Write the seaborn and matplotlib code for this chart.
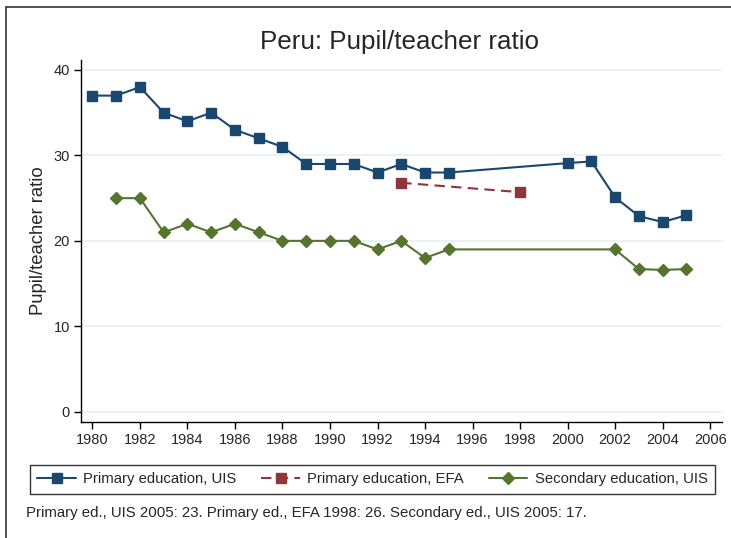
import pandas as pd
import matplotlib.pyplot as plt
import seaborn as sns
from matplotlib.lines import Line2D

# -------------------------------
# Data
# -------------------------------

primary_uis_years = [1980, 1981, 1982, 1983, 1984, 1985, 1986, 1987, 1988, 1989,
                     1990, 1991, 1992, 1993, 1994, 1995, 2000, 2001, 2002, 2003,
                     2004, 2005]
primary_uis_values = [37, 37, 38, 35, 34, 35, 33, 32, 31, 29,
                      29, 29, 28, 29, 28, 28, 29.1, 29.3, 25.1, 22.9,
                      22.2, 23.0]

primary_efa_years = [1993, 1998]
primary_efa_values = [26.8, 25.7]

secondary_uis_years = [1981, 1982, 1983, 1984, 1985, 1986, 1987, 1988, 1989, 1990,
                       1991, 1992, 1993, 1994, 1995, 2002, 2003, 2004, 2005]
secondary_uis_values = [25, 25, 21, 22, 21, 22, 21, 20, 20, 20,
                        20, 19, 20, 18, 19, 19.0, 16.7, 16.6, 16.7]

x_ticks = list(range(1980, 2007, 2))
y_ticks = [0, 10, 20, 30, 40]

note = "Primary ed., UIS 2005: 23. Primary ed., EFA 1998: 26. Secondary ed., UIS 2005: 17."

# -------------------------------
# Plot
# -------------------------------

sns.set_style("white")
plt.rcParams["font.family"] = ["Liberation Sans", "DejaVu Sans"]

fig = plt.figure(figsize=(7.31, 5.38), dpi=100)
ax = fig.add_axes([0.1108, 0.2156, 0.8769, 0.6729])

navy = "#1a476f"
maroon = "#90353b"
green = "#55752f"

sns.lineplot(x=primary_uis_years, y=primary_uis_values, ax=ax, color=navy,
             marker="s", markersize=6.5, markeredgecolor=navy, markeredgewidth=1,
             linewidth=1.5, label="Primary education, UIS")
sns.lineplot(x=primary_efa_years, y=primary_efa_values, ax=ax, color=maroon,
             marker="s", markersize=6.5, markeredgecolor=maroon, markeredgewidth=1,
             linewidth=1.5, linestyle=(0, (5, 3)), label="Primary education, EFA")
sns.lineplot(x=secondary_uis_years, y=secondary_uis_values, ax=ax, color=green,
             marker="D", markersize=6, markeredgecolor=green, markeredgewidth=1,
             linewidth=1.5, label="Secondary education, UIS")

ax.set_xlim(1979.52, 2006.5)
ax.set_ylim(-1.2, 41.17)
ax.set_xticks(x_ticks)
ax.set_yticks(y_ticks)
ax.tick_params(axis="both", direction="out", length=5, width=1, color="black",
               labelsize=10.5, pad=3, left=True, bottom=True)
ax.yaxis.grid(True, color="#e8eff2", linewidth=1.2)
ax.xaxis.grid(False)
ax.set_axisbelow(True)

for side in ["top", "right"]:
    ax.spines[side].set_visible(False)
for side in ["left", "bottom"]:
    ax.spines[side].set_color("black")
    ax.spines[side].set_linewidth(1)

ax.set_xlabel("")
ax.set_ylabel("Pupil/teacher ratio", fontsize=13.3, labelpad=5)

fig.text(0.547, 0.922, "Peru: Pupil/teacher ratio", fontsize=18.7,
         ha="center", va="center")

# legend below the plot, framed, one row
handles, labels = ax.get_legend_handles_labels()
ax.get_legend().remove()
leg = fig.legend(handles, labels, ncol=3, loc="lower left",
                 bbox_to_anchor=(0.041, 0.082, 0.937, 0.063), mode="expand",
                 fontsize=10.7, frameon=True, fancybox=False, handlelength=2.6,
                 handletextpad=0.5, borderaxespad=0, borderpad=0.5,
                 columnspacing=1.5)
leg.get_frame().set_edgecolor("black")
leg.get_frame().set_linewidth(1)

fig.text(0.036, 0.047, note, fontsize=10.8, ha="left", va="center")

# outer frame (only top/left edges visible in the reference crop)
fig.add_artist(Line2D([0.008, 1.0], [0.987, 0.987], color="#333333", linewidth=1.2,
                      transform=fig.transFigure))
fig.add_artist(Line2D([0.008, 0.008], [0.0, 0.987], color="#333333", linewidth=1.2,
                      transform=fig.transFigure))

fig.savefig("out.png", dpi=100)
plt.close()
